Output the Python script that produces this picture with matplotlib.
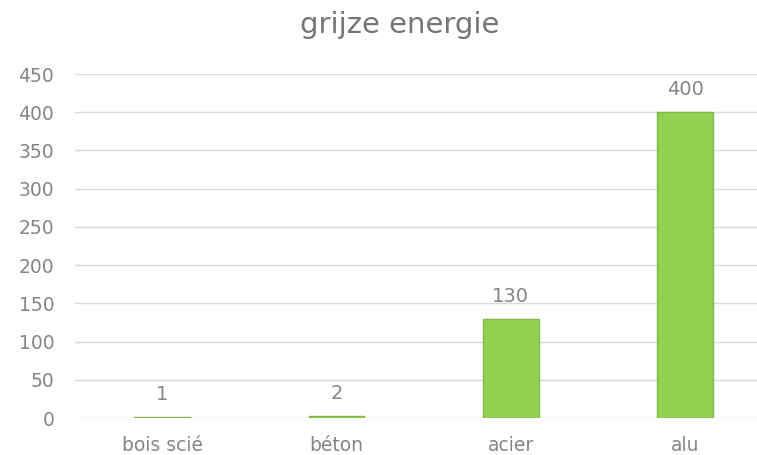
import matplotlib

matplotlib.use("Agg")
import matplotlib.pyplot as plt

materials = ["bois scié", "béton", "acier", "alu"]
grey_energy = [1, 2, 130, 400]
y_ticks = [0, 50, 100, 150, 200, 250, 300, 350, 400, 450]

plt.rcParams["font.family"] = ["DejaVu Sans"]
text_grey = "#858585"

fig = plt.figure(figsize=(7.57, 4.55), dpi=100)
# axes run a little past the right edge, as in the original
ax = fig.add_axes([0.0991, 0.0813, 0.921, 0.756])

x = range(len(materials))
ax.bar(x, grey_energy, width=0.32, color="#92d050", edgecolor="#82b944",
       linewidth=1.0, zorder=3)
for xi, v in zip(x, grey_energy):
    ax.text(xi, v + 17, f"{v}", ha="center", va="bottom", fontsize=14, color=text_grey)

ax.set_xlim(-0.5, 3.5)
ax.set_ylim(0, 450)
ax.set_yticks(y_ticks)
ax.set_xticks(list(x), materials)
ax.grid(axis="y", color="#d9d9d9", linewidth=1.0, zorder=0)
for s in ax.spines.values():
    s.set_visible(False)
ax.tick_params(axis="both", length=0, labelsize=13.5, colors=text_grey)
ax.tick_params(axis="y", pad=15)
ax.tick_params(axis="x", pad=13)

fig.text(0.528, 0.945, "grijze energie", ha="center", va="center",
         fontsize=21, color="#757575")

fig.savefig("out.png", dpi=100)
